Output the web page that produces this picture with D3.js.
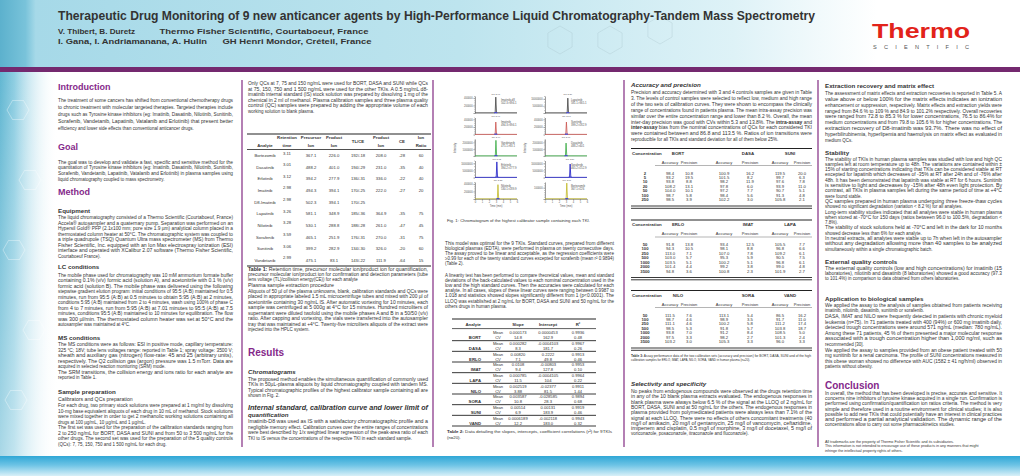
<!DOCTYPE html>
<html>
<head>
<meta charset="utf-8">
<script src="https://cdn.jsdelivr.net/npm/d3@7"></script>
<style>
  body { margin: 0; background: #fff; }
  svg text { font-family: "Liberation Sans", Arial, sans-serif; }
</style>
</head>
<body>
<div id="poster"></div>
<script>
// ---------------- data ----------------

// Table 1 : SRM parameters
var t1Analytes  = ['Bortezomib','Dasatinib','Erlotinib','Imatinib','D8-Imatinib','Lapatinib','Nilotinib','Sorafenib','Sunitinib','Vandetanib'];
var t1Retention = ['3.11','3.01','3.12','2.98','2.98','3.26','3.28','3.59','3.06','2.99'];
var t1Precursor = ['367.1','488.2','394.2','494.3','502.3','581.1','530.1','465.1','399.2','475.1'];
var t1Product   = ['226.0','401.0','277.9','394.1','394.1','348.9','288.8','251.9','282.9','83.1'];
var t1TLCE      = ['192/-18','194/-29','136/-31','170/-25','170/-25','185/-36','188/-28','176/-31','134/-30','143/-22'];
var t1Product2  = ['208.0','231.0','336.0','222.0','','364.9','261.0','270.0','326.0','111.9'];
var t1CE        = ['-28','-35','-22','-27','','-35','-47','-31','-20','-64'];
var t1Ratio     = ['60','40','40','20','','75','45','75','60','15'];

// Table 2 : calibration curves (mean / CV)
var t2Analytes   = ['BORT','DASA','ERLO','IMAT','LAPA','NILO','SORA','SUNI','VAND'];
var t2SlopeMean  = ['0.000173','0.000282','0.00820','0.0108','0.000785','0.002519','0.003587','0.00514','0.0006189'];
var t2SlopeCV    = ['14.8','8.3','7.1','9.4','11.5','3.88','10.8','6.9','12.2'];
var t2InterMean  = ['0.0000453','-0.0004103','0.2222','-0.00803','-0.0004105','-0.02377','-0.028585','0.00131','-0.002118'];
var t2InterCV    = ['162.9','181.7','49.8','127.8','104','81.5','28.3','183.9','183.0'];
var t2R2Mean     = ['0.9936','0.9967','0.9913','0.9953','0.9964','0.9911','0.9894','0.9919','0.9943'];
var t2R2CV       = ['0.48','0.26','0.46','0.10','0.22','1.44','0.68','0.46','0.32'];

// Table 3 : accuracy / precision  [conc, acc1, prec1, acc2, prec2, acc3, prec3]
var t3DrugsA = ['BORT','DASA','SUNI'];
var t3RowsA = [
  [2, 98.4, 10.8, 100.9, 16.2, 119.5, 20.0],
  [5, 93.2, 19.5, 101.5, 8.2, 99.7, 6.3],
  [10, 93.8, 8.8, 98.2, 11.9, 97.6, 7.8],
  [20, 108.2, 13.1, 97.8, 6.0, 93.9, 11.0],
  [50, 104.0, 10.1, 97.2, 7.7, 90.7, 5.1],
  [100, 98.7, 5.8, 98.4, 5.6, 91.3, 4.8],
  [250, 98.5, 3.9, 102.2, 3.0, 105.8, 2.1]
];
var t3DrugsB = ['ERLO','IMAT','LAPA'];
var t3RowsB = [
  [50, 91.8, 13.8, 93.4, 12.5, 105.5, 7.7],
  [100, 94.3, 10.5, 98.1, 8.8, 96.8, 6.6],
  [250, 113.0, 7.1, 107.0, 7.8, 109.2, 6.1],
  [500, 103.0, 5.7, 95.3, 5.9, 90.5, 7.5],
  [1000, 103.5, 5.1, 100.2, 5.1, 96.8, 6.1],
  [2000, 101.4, 4.4, 99.2, 3.8, 99.0, 4.8],
  [3500, 94.8, 3.6, 100.8, 2.3, 101.9, 2.7]
];
var t3DrugsC = ['NILO','SORA','VAND'];
var t3RowsC = [
  [50, 111.5, 7.6, 113.1, 5.4, 86.5, 16.2],
  [100, 98.7, 4.6, 98.9, 3.5, 91.7, 11.0],
  [250, 111.1, 4.6, 100.2, 5.8, 111.2, 17.4],
  [500, 98.5, 5.3, 91.8, 5.7, 103.8, 18.7],
  [1000, 93.8, 7.0, 91.2, 8.4, 108.5, 5.0],
  [2000, 97.5, 3.3, 98.2, 2.7, 101.3, 2.4],
  [3500, 103.2, 3.0, 105.3, 3.3, 96.0, 3.3]
];

// Fig. 1 : chromatograms (left column first, then right column)
var chromNames = ['Imatinib-d8','Imatinib','Vandetanib','Erlotinib','Nilotinib','Lapatinib','Sunitinib','Dasatinib','Sorafenib','Bortezomib'];
var chromMRM   = ['502.3>394.1','494.3>394.1','475.1>83.1','394.2>277.9','530.1>289.9','581.1>365.1','399.2>282.9','488.2>401','465.2>252.9','367.1>226'];
var chromRT    = ['2.97','2.97','2.99','3.12','3.28','3.26','3.06','3.01','3.59','3.11'];
var chromMax   = [450000, 450000, 2500000, 12000000, 450000, 12000000, 450000, 2500000, 12000000, 150000];
var chromTraces = [
  [[0,4000],[2.88,4000],[2.97,420000],[3.07,5000],[6,4000]],
  [[0,3000],[2.88,3000],[2.97,330000],[3.07,4000],[6,3000]],
  [[0,20000],[2.9,20000],[2.99,2300000],[3.09,25000],[6,20000]],
  [[0,90000],[3.03,90000],[3.12,11000000],[3.22,100000],[6,90000]],
  [[0,3000],[3.19,3000],[3.28,380000],[3.38,4000],[6,3000]],
  [[0,80000],[3.17,80000],[3.26,10500000],[3.36,90000],[6,80000]],
  [[0,3000],[2.97,3000],[3.06,330000],[3.16,4000],[6,3000]],
  [[0,20000],[2.92,20000],[3.01,1900000],[3.11,25000],[6,20000]],
  [[0,90000],[3.5,90000],[3.59,9500000],[3.69,100000],[6,90000]],
  [[0,1500],[3.02,1500],[3.11,140000],[3.21,2000],[6,1500]]
];
var chromColors = ['#4a4a4a','#cc5a55','#3fae49','#2424c8','#c4bc30'];

// ---------------- texts ----------------
var introText = [[
  'The treatment of some cancers has shifted from conventional chemotherapy drugs',
  'to chronic treatment with molecular targeted therapies. Targeted therapies include',
  'drugs such as Tyrosine kinase inhibitors (eg: Imatinib, Dasatinib, Nilotinib, Sunitinib,',
  'Sorafenib, Vandetanib, Lapatinib, Vatalanib and Erlotinib) that present better',
  'efficiency and lower side effects than conventional anticancer drugs.'
]];
var goalText = [[
  'The goal was to develop and validate a fast, specific and sensitive method for the',
  'quantitation of Tyrosine kinase inhibitors (eg: Imatinib, Dasatinib, Nilotinib, Sunitinib,',
  'Sorafenib, Vandetanib, Lapatinib, Vatalanib and Erlotinib) in plasma samples using',
  'liquid chromatography coupled to mass spectrometry.'
]];
var equipText = [[
  'The liquid chromatography consisted of a Thermo Scientific (Courtaboeuf, France)',
  'Accela® autosampler and a quaternary pump. Separation was performed on an',
  'Hypersil Gold® PFP (2.1x100 mm; pore size 1.9 µm) analytical column placed in a',
  'thermostated column heater at 50°C. The chromatographic system was coupled to',
  'a triple quadrupole (TSQ) Quantum Ultra mass spectrometer (MS) from Thermo',
  'Fisher Scientific, Inc. equipped with an Ion Max electrospray ionization (ESI)',
  'interface and operated with XCalibur 2.07 software (Thermo Fisher Scientific,',
  'Courtaboeuf France).'
]];
var lcText = [[
  'The mobile phase used for chromatography was 10 mM ammonium formate buffer',
  'containing 0.1% (v/v) formic acid (solution A), and acetonitrile with 0.1 % (v/v)',
  'formic acid (solution B). The mobile phase was delivered using the following',
  'stepwise gradient elution program: initial conditions of 95:5 (A:B) maintained for 0.5',
  'minutes, run from 95:5 (A:B) at 0.5 minutes to obtain 5:95 (A:B) at 2 minutes,',
  'conditions 5:95 (A:B) maintained from 2 to 4 minutes, wash using 100% of phase C',
  'from 4 to 7 minutes, run from 5:95 (A:B) at 7.01 minutes to 95:5 (A:B) at 7.5',
  'minutes, conditions 95:5 (A:B) maintained to 10 minutes for equilibration. The flow',
  'was 300 µl/min. The thermostated column heater was set at 50°C and the',
  'autosampler was maintained at 4°C.'
]];
var msText = [[
  'The MS conditions were as follows: ESI in positive mode, capillary temperature:',
  '325 °C; 18V; tube lens voltages range: reported in Table 1; spray voltage: 3500 V;',
  'sheath and auxiliary gas (nitrogen) flow-rate: 45 and 25 (arbitrary units),',
  'respectively. The Q2 collision gas (argon) pressure was 1.5 mTorr. Data are',
  'acquired in selected reaction monitoring (SRM) mode.'
], [
  'The SRM transitions, the collision energy and ions ratio for each analyte are',
  'reported in Table 1.'
]];
var calText = [[
  'For each drug, two primary stock solutions were prepared at 1 mg/ml by dissolving',
  '10-mg base equivalent aliquots of each drug in 10 mL of methanol. Stock solutions',
  'were mixed together in order to get 2 methanolic working solutions containing all',
  'drugs at 100 µg/mL, 10 µg/mL and 1 µg/mL.'
], [
  'The first set was used for the preparation of the calibration standards ranging from',
  '2 to 250 ng/mL for BORT, DASA and SUNI and from 50 to 3 500 ng/mL for the',
  'other drugs. The second set was used for the preparation of the 5 quality controls',
  '(QCs): 7, 75, 150, 750 and 1 500 ng/mL for each drug.'
]];
var qcText = [[
  'Only QCs at 7, 75 and 150 ng/mL were used for BORT, DASA and SUNI while QCs',
  'at 75, 150, 750 and 1 500 ng/mL were used for the other TKIs. A 0.5 mg/mL d8-',
  'imatinib internal standard (IS) stock solution was prepared by dissolving 1 mg of the',
  'chemical in 2 ml of methanol. Plasma calibration samples and three plasma quality',
  'control (QC) samples were prepared by adding the appropriate volume of each',
  'working solution to blank plasma.'
]];
var t1Caption = [[
  '**Table 1:** Retention time, precursor molecular ion/product ion for quantification,',
  'precursor molecular ion/product ion for confirmation and detection parameters (tube',
  'lens voltage (TL)/collision energy(CE)) for each analyte'
]];
var plasmaText = [[
  'Aliquots of 50 µl of the plasma unknowns, blank, calibration standards and QCs were',
  'placed in appropriate labeled 1.5 mL microcentrifuge tubes and mixed with 200 µl of',
  'acetonitrile containing 30 ng/mL IS. After automatic vortexing for 10 minutes, each',
  'sample was centrifuged at 5 000g at 4°C for 15 minutes. Hundred microliters of',
  'supernatant were diluted twofold using the mobile phases A and B in a 50/50 (v/v)',
  'ratio. After capping and vortexing, the vials were transferred into the autosampler',
  'tray that was maintained at +4°C. Twenty-five microliters aliquots of the extract were',
  'injected into the HPLC system.'
]];
var chromText = [[
  'The proposed method enables the simultaneous quantification of commonly used',
  'TKIs in 50µL-plasma aliquots by liquid chromatography coupled with tandem MS.',
  'Typical chromatographic profiles of the highest calibrator sample containing all are',
  'shown in Fig. 2.'
]];
var isText = [[
  'Imatinib-D8 was used as IS with a satisfactory chromatographic profile and a',
  'negligible memory effect. Calibration curves over the entire ranges of concentrations',
  'were best described by 1/x weighted linear regression of the peak-area ratio of each',
  'TKI to IS versus the concentrations of the respective TKI in each standard sample.'
]];
var modelText = [[
  'This model was optimal for the 9 TKIs. Standard curves, prepared from different',
  'biological plasmas (EDTA), were performed in plasma on twenty consecutive days.',
  'The assay proved to be linear and acceptable, as the regression coefficients were',
  '≥0.99 for each of the twenty standard curves excepted for sorafenib (mean r² 0.9894)',
  '(Table 2).'
]];
var linText = [[
  'A linearity test has been performed to compare theoretical values, mean and standard',
  'deviations of the back-calculated values to each nominal concentration used in the',
  'low and the high standard curves. Then the accuracies were calculated for each',
  'analyte. In all cases, slopes of these linear curves were ranging between 0.9987 to',
  '1.018 and statistics showed slopes significantly different from 1 (p<0.0001). The',
  'LLOQ was established at 2 ng/mL for BORT, DASA and SUNI and 50 ng/mL for the',
  'others drugs in human plasma.'
]];
var t2Caption = [[
  '**Table 2:** Data detailing the slopes, intercepts, coefficient correlations (r²) for 9TKIs',
  '(n=20).'
]];
var accText = [[
  'Precision and accuracy determined with 3 and 4 controls samples are given in Table',
  '3. The levels of control samples were selected to reflect low, medium and high range',
  'of the two sets of calibration curves. They were shown to encompass the clinically',
  'range of concentrations found in patients plasma. The mean intra-assay precision was',
  'similar over the entire concentration range and lower than 8.2 %. Overall, the mean',
  'inter-day precision was good with CVs within 5.3 and 13.8%. The **intra-assay** and',
  '**inter-assay** bias from the nominal concentrations of QCs for each considered TKI',
  'were contained between and 86.8 and 113.5 %. Ratios of ion transitions were',
  'reproducible for all TKIs and standard deviation for all of them below 25%.'
]];
var t3Caption = [
  '**Table 3:** Assay performance data of the two calibration sets (accuracy and precision) for BORT, DASA, SUNI and of the high',
  'calibration samples for ERLO, IMAT, LAPA, NILO, SORA, VAND in human plasma (n=20).'
];
var selText = [[
  'No peaks from endogenous compounds were observed at the drugs retention time',
  'in any of the 10 blank plasma extracts evaluated. The endogenous responses in',
  'blank plasma were always below 6.5 % of the signal at the LLOQ of 2 ng/mL for',
  'BORT, DASA, SUNI and at 50 ng/mL for the others. The endogenous responses in',
  'plasma provided from polymedicated patients were always less than 7.1% of the',
  'signal at each LLOQ. There were no effects of others concomitant treatments (40',
  'mg/l of amikacin, 20 mg/l of gentamycin, 25 mg/l of vancomycin, ceftazidime,',
  'imipenem and cisplatin, 0.5 mg/l of morphine, 3 mg/l of docetaxel, 5 mg/l of',
  'voriconazole, posaconazole, itraconazole and fluconazole).'
]];
var extText = [[
  'The assessment of matrix effects and extraction recoveries is reported in Table 5. A',
  'value above or below 100% for the matrix effects indicates an ionization',
  'enhancement or suppression, respectively. Matrix effects and extraction yields were',
  'ranged from 84.6 % to 109 % and 84.9 to 101.2% respectively. Overall recoveries',
  'were ranged from 72.8 to 85.3 % for lower concentrations, 76.5 to 86.4% for',
  'medium concentrations and from 79.8 to 105.6 % for higher concentrations. The',
  'extraction recovery of D8-imatinib was 93.7%. There was no effect of',
  'hyperbilirubinemia, hyperlipemia and haemolysis on matrix effect as evaluated in',
  'medium QCs.'
]];
var stabText = [[
  'The stability of TKIs in human plasma samples was studied with low and high QC',
  'samples left at room temperature up to 48h. The variations are contained within ±',
  '15% of starting concentrations indicating that TKIs can be considered stable at RT',
  'excepted for lapatinib which decreases of -35% at RT after 24h and of -76% after',
  '48h. It has been demonstrated that lapatinib was stable at RT for 6 hours. Sunitinib',
  'is sensitive to light and decreases by -15% after 48h even light protection. By',
  'contrast, all TKIs in plasma samples left during the same period of time at +4°C',
  'were found stable.'
], [
  'QC samples prepared in human plasma undergoing three freeze-thaw cycles',
  'showed no significant degradation (variation < 8.2 %) for all analytes.'
], [
  'Long-term stability studies indicated that all analytes were stable in human plasma',
  'when stored at -70°C for 150 days (ratios between 96.0 to 100.5%, degradation <',
  '7.8%).'
], [
  'The stability of stock solutions held at -70°C and left in the dark for 10 months',
  'showed decrease less than 6% for each analyte.'
], [
  'In neutral extracts, all analytes were stable up to 7h when left in the autosampler',
  'without any degradation allowing more than 40 samples to be analyzed',
  'simultaneously within a single chromatographic batch.'
]];
var eqcText = [[
  'The external quality controls (low and high concentrations) for imatinib (15',
  'laboratories), nilotinib and dasatinib (8 laboratories) showed a good accuracy (97.3',
  'to 101.4%) in comparison to data obtained from others laboratories.'
]];
var appText = [[
  'We applied the assay to the analysis of samples obtained from patients receiving',
  'imatinib, nilotinib, dasatinib, sunitinib or sorafenib.'
], [
  'DASA, IMAT and NILO were frequently detected in patients with chronic myeloid',
  'leukemia (n=75). In 71 patients treated with 400 (94%) or 600 mg imatinib daily,',
  'detected trough concentrations were around 571 ng/mL (median: 780 ng/mL).',
  'Among these 71 patients, 45 % of them presented a major molecular response',
  'associated with a trough concentration higher than 1,000 ng/ml, such as',
  'recommended [30].'
], [
  'We applied the assay to samples provided from an obese patient treated with 50',
  'mg sunitinib for a renal carcinoma. The profile of SUNI concentrations measured in',
  'this obese woman showed no difference with AUC (1582 ± 41 ng/h/ml) observed in',
  'patients without obesity.'
]];
var conclText = [[
  'In overall, the method that has been developed is precise, accurate and sensitive. It',
  'concerns nine inhibitors of tyrosine kinase acquired in a single run. Confirmation is',
  'performed using confirmation/quantification ion ratios criteria. The method is very',
  'simple and therefore used in a routine environment for clinical studies; it is also',
  'possible to add new TKIs that could potentially have an interest in clinical practices',
  'and performed a partial analytical validation. The dynamic range of the',
  'concentrations allow to carry out some pharmacokinetics studies.'
]];
var tmText = [
  'All trademarks are the property of Thermo Fisher Scientific and its subsidiaries.',
  'This information is not intended to encourage use of these products in any manners that might',
  'infringe the intellectual property rights of others.'
];

// ---------------- drawing ----------------
var W = 1020, H = 476;
var PURPLE = '#85288a', TXT = '#333';

var svg = d3.select('#poster').append('svg').attr('width', W).attr('height', H);
var defs = svg.append('defs');

function gradient(id, stops, vertical) {
  var g = defs.append('linearGradient').attr('id', id)
    .attr('x1', 0).attr('y1', 0).attr('x2', vertical ? 0 : 1).attr('y2', vertical ? 1 : 0);
  stops.forEach(function(s) {
    g.append('stop').attr('offset', s[0]).attr('stop-color', s[1]).attr('stop-opacity', s[2] == null ? 1 : s[2]);
  });
}
gradient('hdr', [[0, '#5cb1cd'], [0.025, '#79c3da'], [0.035, '#a6d9e8'], [0.45, '#bde4ee'], [0.72, '#def2f7'], [0.86, '#ffffff']]);
gradient('strip', [[0, '#62b7d2'], [0.25, '#8fcee2'], [1, '#ffffff', 0]]);
gradient('stripFade', [[0, '#ffffff', 0], [1, '#ffffff', 0.45]], true);
gradient('foot', [[0, '#2fa7d6'], [0.45, '#6cc3e5'], [1, '#d8f0f8']], true);

// header
svg.append('rect').attr('width', W).attr('height', 68).attr('fill', 'url(#hdr)');
// faint molecule sketch in the header
var mol = svg.append('g').attr('fill', 'none').attr('stroke', '#9fb9c2').attr('stroke-opacity', 0.35).attr('stroke-width', 0.8);
[[560, 40], [610, 40], [660, 30]].forEach(function(c) {
  mol.append('path').attr('d', d3.range(7).map(function(i) {
    var a = Math.PI / 3 * i + Math.PI / 6;
    return (i ? 'L' : 'M') + (c[0] + 14 * Math.cos(a)) + ',' + (c[1] + 14 * Math.sin(a));
  }).join(''));
});
svg.append('rect').attr('y', 67).attr('width', W).attr('height', 5).attr('fill', '#74296f');

svg.append('text').attr('x', 58).attr('y', 19.5)
  .attr('font-size', 12.5).attr('font-weight', 'bold').attr('fill', '#333')
  .attr('textLength', 757).attr('lengthAdjust', 'spacingAndGlyphs')
  .text('Therapeutic Drug Monitoring of 9 new anticancer agents by High-Performance Liquid Chromatography-Tandem Mass Spectrometry');
[['V. Thibert, B. Duretz', 58, 33.5, 77], ['Thermo Fisher Scientific, Courtaboeuf, France', 159.5, 33.5, 209],
 ['I. Gana, I. Andriamanana, A. Hulin', 58, 44, 149], ['GH Henri Mondor, Créteil, France', 222.5, 44, 149]]
  .forEach(function(a) {
    svg.append('text').attr('x', a[1]).attr('y', a[2]).attr('font-size', 8).attr('font-weight', 'bold')
      .attr('fill', '#333').attr('textLength', a[3]).attr('lengthAdjust', 'spacingAndGlyphs').text(a[0]);
  });

// logo
svg.append('text').attr('x', 872).attr('y', 37.5).attr('font-size', 21).attr('font-weight', 'bold')
  .attr('fill', '#e2231a').attr('textLength', 98).attr('lengthAdjust', 'spacingAndGlyphs').text('Thermo');
svg.append('text').attr('x', 873).attr('y', 49).attr('font-size', 5.6).attr('fill', '#555')
  .attr('textLength', 96).attr('lengthAdjust', 'spacing').text('SCIENTIFIC');

// left strip + footer band
svg.append('rect').attr('y', 72).attr('width', 58).attr('height', 384).attr('fill', 'url(#strip)');
svg.append('rect').attr('y', 72).attr('width', 58).attr('height', 384).attr('fill', 'url(#stripFade)');
var smol = svg.append('g').attr('fill', 'none').attr('stroke', '#ffffff').attr('stroke-opacity', 0.45).attr('stroke-width', 0.8);
[[18, 110], [30, 180], [14, 250], [34, 330], [16, 400]].forEach(function(c) {
  smol.append('path').attr('d', d3.range(7).map(function(i) {
    var a = Math.PI / 3 * i;
    return (i ? 'L' : 'M') + (c[0] + 11 * Math.cos(a)) + ',' + (c[1] + 11 * Math.sin(a));
  }).join(''));
});
svg.append('rect').attr('y', 456).attr('width', W).attr('height', 20).attr('fill', 'url(#foot)');

// column separators
[242, 433, 624, 818].forEach(function(x) {
  svg.append('line').attr('x1', x).attr('x2', x).attr('y1', 80).attr('y2', 447)
    .attr('stroke', '#8c3b8c').attr('stroke-width', 1.3);
});

// ---------- text helpers ----------
function textLine(g, str, x, y, o) {
  o = o || {};
  var t = g.append('text').attr('x', x).attr('y', y)
    .attr('font-size', o.size || 4.5)
    .attr('fill', o.fill || TXT)
    .attr('text-anchor', o.anchor || 'start');
  if (o.weight) t.attr('font-weight', o.weight);
  if (o.italic) t.attr('font-style', 'italic');
  String(str).split('**').forEach(function(s, i) {
    if (!s) return;
    var ts = t.append('tspan').text(s);
    if (i % 2) ts.attr('font-weight', 'bold');
  });
  if (o.w) t.attr('textLength', o.w).attr('lengthAdjust', 'spacingAndGlyphs');
  return t;
}
function para(paras, x, y, w, lh, o) {
  o = o || {};
  paras.forEach(function(p) {
    p.forEach(function(s, i) {
      textLine(svg, s, x, y, Object.assign({}, o, { w: i < p.length - 1 ? w : null }));
      y += lh;
    });
  });
  return y;
}
function heading(s, x, y) { textLine(svg, s, x, y, { size: 9, weight: 'bold', fill: PURPLE }); }
function sub(s, x, y, italic) { textLine(svg, s, x, y, { size: 6.2, weight: 'bold', italic: italic }); }

// ---------- column 1 ----------
var c1 = 58, w1 = 175;
heading('Introduction', c1, 90);
para(introText, c1, 102, w1, 7);
heading('Goal', c1, 149.5);
para(goalText, c1, 163.5, w1, 5.8);
heading('Method', c1, 194.5);
sub('Equipment', c1, 213);
para(equipText, c1, 219, w1, 5.55);
sub('LC conditions', c1, 268.5);
para(lcText, c1, 276.5, w1, 5.55);
sub('MS conditions', c1, 340);
para(msText, c1, 346, w1, 5.55);
sub('Sample preparation', c1, 394);
textLine(svg, 'Calibrators and QCs preparation', c1, 400.5, { size: 5.2 });
para(calText, c1, 407, w1, 5.55);

// ---------- column 2 ----------
var c2 = 248, w2 = 180;
para(qcText, c2, 85, w2, 5.5);

// Table 1
var t1 = svg.append('g');
var t1Cols = [265, 287, 311, 334, 358, 381, 402, 421];
var t1Row = d3.scalePoint().domain(t1Analytes).range([157, 261.8]);
t1.append('line').attr('x1', 247).attr('x2', 431).attr('y1', 134).attr('y2', 134).attr('stroke', '#222').attr('stroke-width', 1.1);
t1.append('line').attr('x1', 247).attr('x2', 431).attr('y1', 149.5).attr('y2', 149.5).attr('stroke', '#222').attr('stroke-width', 0.8);
t1.append('line').attr('x1', 247).attr('x2', 431).attr('y1', 266).attr('y2', 266).attr('stroke', '#222').attr('stroke-width', 1.1);
var hdrStyle = { size: 4.3, weight: 'bold', anchor: 'middle' };
[['Retention', 1], ['Precursor', 2], ['Product', 3], ['Product', 5], ['Ion', 7]].forEach(function(h) {
  textLine(t1, h[0], t1Cols[h[1]], 139, hdrStyle);
});
[['Analyte', 0], ['time', 1], ['Ion', 2], ['Ion', 3], ['Ion', 5], ['Ratio', 7]].forEach(function(h) {
  textLine(t1, h[0], t1Cols[h[1]], 146.5, hdrStyle);
});
textLine(t1, 'TL/CE', t1Cols[4], 143, hdrStyle);
textLine(t1, 'CE', t1Cols[6], 143, hdrStyle);
var t1Columns = [t1Analytes, t1Retention, t1Precursor, t1Product, t1TLCE, t1Product2, t1CE, t1Ratio];
t1Analytes.forEach(function(a, i) {
  t1Columns.forEach(function(col, j) {
    textLine(t1, col[i], t1Cols[j], t1Row(a) + (j === 1 ? -2.5 : 0), { size: 4.2, anchor: 'middle' });
  });
});
para(t1Caption, c2, 270.5, w2, 5);
textLine(svg, 'Plasma sample extraction procedure', c2, 286.5, { size: 5.3 });
para(plasmaText, c2, 293, w2, 5.45);
textLine(svg, 'Results', c2, 356, { size: 10, weight: 'bold', fill: PURPLE });
sub('Chromatograms', c2, 374, true);
para(chromText, c2, 380.5, w2, 5.5);
textLine(svg, 'Internal standard, calibration curve and lower limit of', c2, 410, { size: 6.3, weight: 'bold', italic: true, w: w2 });
sub('quantification', c2, 417, true);
para(isText, c2, 423, w2, 5.7);

// ---------- column 3 : Fig. 1 ----------
var fig = svg.append('g');
var rowBase = d3.scalePoint().domain(d3.range(5)).range([113, 199]);
var colAxis = [475, 545];
chromNames.forEach(function(name, k) {
  var c = Math.floor(k / 5), r = k % 5;
  var base = rowBase(r);
  var x = d3.scaleLinear().domain([0, 6]).range([colAxis[c], colAxis[c] + 42]);
  var y = d3.scaleLinear().domain([0, chromMax[k]]).range([base, base - 17]);
  var g = fig.append('g');

  var minor = g.append('g').attr('transform', 'translate(' + colAxis[c] + ',0)')
    .call(d3.axisLeft(y).ticks(8).tickSize(1).tickSizeOuter(0).tickFormat(''));
  var major = g.append('g').attr('transform', 'translate(' + colAxis[c] + ',0)')
    .call(d3.axisLeft(y).ticks(2).tickSize(1.8).tickSizeOuter(0)
      .tickFormat(function(d) { return d ? d3.format('d')(d) : ''; }));
  [minor, major].forEach(function(a) {
    a.attr('font-size', 2.6);
    a.selectAll('path,line').attr('stroke', '#666').attr('stroke-width', 0.4);
    a.selectAll('text').attr('fill', '#555').attr('x', -2.3);
  });

  g.append('line').attr('x1', x(0)).attr('x2', x(6)).attr('y1', base).attr('y2', base)
    .attr('stroke', '#777').attr('stroke-width', 0.4);
  g.append('path').datum(chromTraces[k])
    .attr('d', d3.line().x(function(d) { return x(d[0]); }).y(function(d) { return y(d[1]); }))
    .attr('fill', 'none').attr('stroke', chromColors[r]).attr('stroke-width', 0.85);
  g.append('rect').attr('x', x(+chromRT[k]) - 1.5).attr('y', base - 1).attr('width', 3).attr('height', 1.3)
    .attr('fill', '#4a4ad0');
  textLine(g, 'RT: ' + chromRT[k], x(+chromRT[k]), base - 18, { size: 2.3, anchor: 'middle', fill: '#555' });
  textLine(g, name, x(3.7), base - 12, { size: 2.8, fill: '#555' });
  textLine(g, chromMRM[k], x(3.7), base - 8.6, { size: 2.8, fill: '#555' });

  if (r === 4) {
    var xa = g.append('g').attr('transform', 'translate(0,' + base + ')')
      .call(d3.axisBottom(x).ticks(6).tickSize(1.2).tickSizeOuter(0));
    xa.attr('font-size', 2.6);
    xa.selectAll('path,line').attr('stroke', '#666').attr('stroke-width', 0.4);
    xa.selectAll('text').attr('fill', '#555').attr('y', 2);
    textLine(g, 'Time (min)', x(3), base + 8, { size: 2.7, anchor: 'middle', fill: '#555' });
  }
  if (r === 2) {
    g.append('text').attr('transform', 'translate(' + (colAxis[c] - 19) + ',' + (base - 8) + ') rotate(-90)')
      .attr('text-anchor', 'middle').attr('font-size', 2.8).attr('fill', '#555').text('Intensity');
  }
});

var c3 = 445, w3 = 169;
textLine(svg, 'Fig. 1: Chromatogram of the highest calibrator sample containing each TKI.', 447, 222, { size: 4.3 });
para(modelText, c3, 245, w3, 5.1);
para(linText, c3, 277, w3, 5.1);

// Table 2
var t2 = svg.append('g');
var t2Left = 452, t2Right = 596;
var t2Block = d3.scaleBand().domain(t2Analytes).range([330, 426]);
var t2Cols = { label: 481, stat: 498, slope: 518, inter: 548, r2: 578 };
t2.append('line').attr('x1', t2Left).attr('x2', t2Right).attr('y1', 319).attr('y2', 319).attr('stroke', '#222').attr('stroke-width', 1.1);
textLine(t2, 'Analyte', t2Cols.label, 326.3, { size: 4.3, weight: 'bold', anchor: 'end' });
textLine(t2, 'Slope', t2Cols.slope, 326.3, { size: 4.3, weight: 'bold', anchor: 'middle' });
textLine(t2, 'Intercept', t2Cols.inter, 326.3, { size: 4.3, weight: 'bold', anchor: 'middle' });
textLine(t2, 'R²', t2Cols.r2, 326.3, { size: 4.3, weight: 'bold', anchor: 'middle' });
t2.append('line').attr('x1', t2Left).attr('x2', t2Right).attr('y1', 328.6).attr('y2', 328.6).attr('stroke', '#333').attr('stroke-width', 0.8);
t2Analytes.forEach(function(a, i) {
  var top = t2Block(a), bw = t2Block.bandwidth();
  var yM = top + bw * 0.42, yC = top + bw * 0.86;
  textLine(t2, a, t2Cols.label, yC, { size: 4.3, weight: 'bold', anchor: 'end' });
  textLine(t2, 'Mean', t2Cols.stat, yM, { size: 4.1, anchor: 'middle' });
  textLine(t2, 'CV', t2Cols.stat, yC, { size: 4.1, anchor: 'middle' });
  textLine(t2, t2SlopeMean[i], t2Cols.slope, yM, { size: 4.1, anchor: 'middle' });
  textLine(t2, t2SlopeCV[i], t2Cols.slope, yC, { size: 4.1, anchor: 'middle' });
  textLine(t2, t2InterMean[i], t2Cols.inter, yM, { size: 4.1, anchor: 'middle' });
  textLine(t2, t2InterCV[i], t2Cols.inter, yC, { size: 4.1, anchor: 'middle' });
  textLine(t2, t2R2Mean[i], t2Cols.r2, yM, { size: 4.1, anchor: 'middle' });
  textLine(t2, t2R2CV[i], t2Cols.r2, yC, { size: 4.1, anchor: 'middle' });
  t2.append('line').attr('x1', t2Left).attr('x2', t2Right).attr('y1', top + bw).attr('y2', top + bw)
    .attr('stroke', '#222').attr('stroke-width', 0.9);
});
para(t2Caption, 447, 433, 165, 6, { size: 4.3 });

// ---------- column 4 ----------
var c4 = 631, w4 = 181;
sub('Accuracy and precision', c4, 87, true);
para(accText, c4, 94, w4, 5.9);

var t3Cols = [645, 670, 689, 724, 750, 780, 802];
var t3Heads = [678, 748, 790];
function drawT3(drugs, rows, top) {
  var g = svg.append('g');
  var ry = d3.scalePoint().domain(d3.range(rows.length)).range([top + 26, top + 52.7]);
  g.append('line').attr('x1', c4).attr('x2', 812).attr('y1', top).attr('y2', top).attr('stroke', '#222').attr('stroke-width', 1.1);
  textLine(g, 'Concentration', c4 + 1, top + 6, { size: 4.4, weight: 'bold' });
  drugs.forEach(function(d, i) { textLine(g, d, t3Heads[i], top + 6, { size: 4.4, weight: 'bold', anchor: 'middle' }); });
  d3.range(3).forEach(function(i) {
    textLine(g, 'Accuracy', t3Cols[1 + 2 * i], top + 15, { size: 4, anchor: 'middle' });
    textLine(g, 'Precision', t3Cols[2 + 2 * i], top + 15, { size: 4, anchor: 'middle' });
  });
  g.append('line').attr('x1', 655).attr('x2', 812).attr('y1', top + 17).attr('y2', top + 17).attr('stroke', '#444').attr('stroke-width', 0.4);
  rows.forEach(function(row, i) {
    row.forEach(function(v, j) {
      textLine(g, j ? v.toFixed(1) : v, t3Cols[j], ry(i), { size: 4.2, anchor: 'middle', weight: j ? null : 'bold' });
    });
  });
  [top + 57.5, top + 59.8].forEach(function(y) {
    g.append('line').attr('x1', c4).attr('x2', 812).attr('y1', y).attr('y2', y).attr('stroke', '#222').attr('stroke-width', 0.9);
  });
}
drawT3(t3DrugsA, t3RowsA, 148.5);
drawT3(t3DrugsB, t3RowsB, 220);
drawT3(t3DrugsC, t3RowsC, 290.5);
t3Caption.forEach(function(s, i) { textLine(svg, s, c4, 356.5 + i * 4, { size: 3, w: i ? null : 180 }); });

sub('Selectivity and specificity', c4, 386, true);
para(selText, c4, 393, w4, 5.3);

// ---------- column 5 ----------
var c5 = 825, w5 = 177;
sub('Extraction recovery and matrix effect', c5, 88);
para(extText, c5, 95, w5, 5.85);
sub('Stability', c5, 154.5);
para(stabText, c5, 160.5, w5, 5.3);
sub('External quality controls', c5, 263.5);
para(eqcText, c5, 270, w5, 5.2);
sub('Application to biological samples', c5, 300.5);
para(appText, c5, 306.8, w5, 5.6);
textLine(svg, 'Conclusion', c5, 388.5, { size: 10, weight: 'bold', fill: PURPLE });
para(conclText, c5, 395, w5, 5.2);
tmText.forEach(function(s, i) { textLine(svg, s, c5, 442.5 + i * 4.6, { size: 3.7 }); });
</script>
</body>
</html>
